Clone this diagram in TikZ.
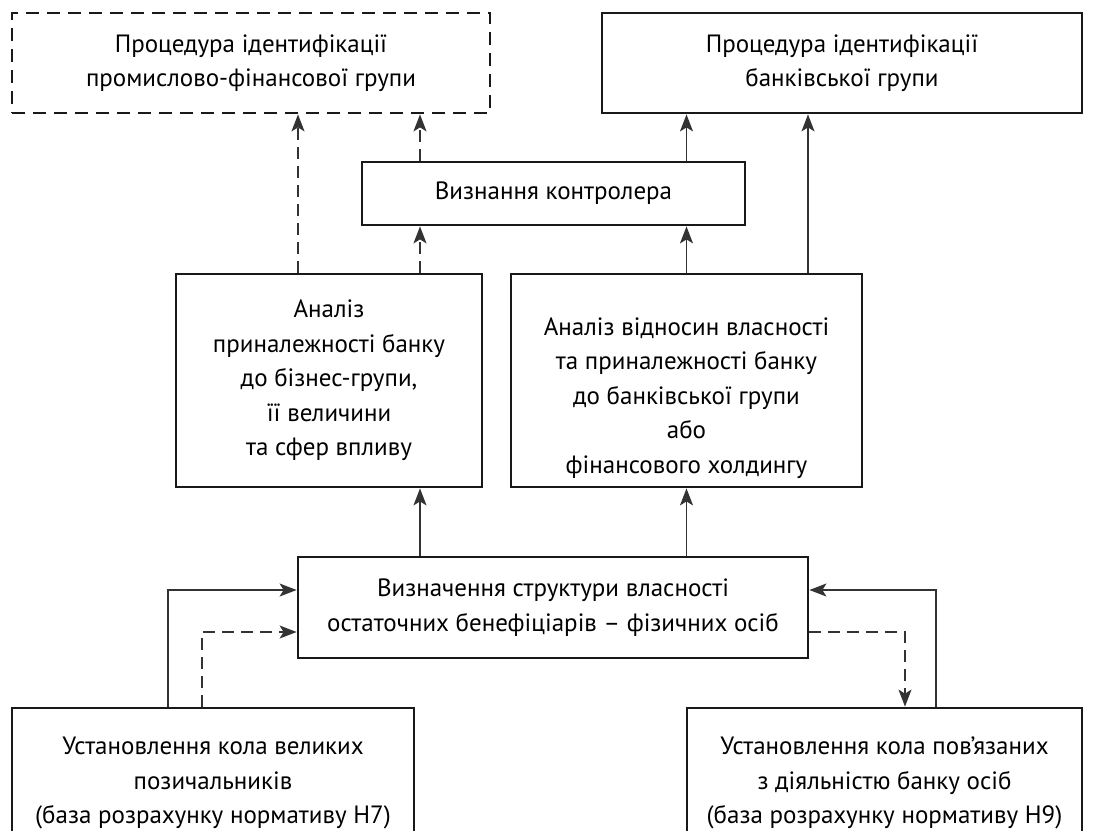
\documentclass[tikz,border=0pt]{standalone}
\usepackage{fontspec}
\setmainfont{PT Sans}
\usetikzlibrary{arrows.meta}

\tikzset{
  box/.style={draw=black!90, line width=1.4pt, align=center, inner sep=0pt},
  dbox/.style={box, dash pattern=on 6.5pt off 4pt},
  txt/.style={align=center, inner sep=0pt},
  con/.style={draw=black!80, line width=0.75pt, -{Stealth[length=8.5pt,width=6.5pt,inset=2pt]}},
  dcon/.style={con, dash pattern=on 6pt off 3.5pt}
}

\begin{document}
\begin{tikzpicture}[x=0.5pt, y=-0.5pt, font=\fontsize{12.5}{17.25}\selectfont]
		%%%%% START %%%%%
		\useasboundingbox (0,0) rectangle (1094,831);
		\clip (0,0) rectangle (1094,831);
		
		% top row
		\node[dbox, minimum width=239pt, minimum height=50pt] (pfg) at (251,63)
			{Процедура ідентифікації\\промислово-фінансової групи};
		\node[box, minimum width=240pt, minimum height=50pt] (bgr) at (842,63)
			{Процедура ідентифікації\\банківської групи};
		
		\node[box, minimum width=191.5pt, minimum height=31.5pt] (ctrl) at (553.5,193.5)
			{Визнання контролера};
		
		% analysis boxes
		\node[box, minimum width=153pt, minimum height=106.5pt] (anl) at (329,380.5)
			{Аналіз\\приналежності банку\\до бізнес-групи,\\її величини\\та сфер впливу};
		\node[box, minimum width=175.5pt, minimum height=106.5pt] (anr) at (686.5,380.5) {};
		\node[txt] (anrtxt) at (686.5,398)
			{Аналіз відносин власності\\та приналежності банку\\до банківської групи\\або\\фінансового холдингу};
		
		\node[box, minimum width=255pt, minimum height=50.5pt] (str) at (553,607.5)
			{Визначення структури власності\\остаточних бенефіціарів -- фізичних осіб};
		
		% bottom row, cut by the page edge
		\node[box, minimum width=201pt, minimum height=75pt] (borr) at (213,783)
			{Установлення кола великих\\позичальників\\(база розрахунку нормативу Н7)};
		\node[box, minimum width=197.5pt, minimum height=75pt] (rel) at (884.5,783)
			{Установлення кола пов’язаних\\з діяльністю банку осіб\\(база розрахунку нормативу Н9)};
		
		% connector lanes
		\coordinate (xa) at (298,0);
		\coordinate (xb) at (420,0);
		\coordinate (xc) at (686.5,0);
		\coordinate (xd) at (808,0);
		\coordinate (l1) at (168,590);
		\coordinate (l2) at (202,632);
		\coordinate (r1) at (936,590);
		\coordinate (r2) at (905,632);
		
		\draw[dcon] (anl.north -| xa) -- (pfg.south -| xa);
		\draw[dcon] (anl.north -| xb) -- (ctrl.south -| xb);
		\draw[dcon] (ctrl.north -| xb) -- (pfg.south -| xb);
		\draw[con] (anr.north -| xc) -- (ctrl.south -| xc);
		\draw[con] (ctrl.north -| xc) -- (bgr.south -| xc);
		\draw[con] (anr.north -| xd) -- (bgr.south -| xd);
		
		\draw[con] (str.north -| xb) -- (anl.south -| xb);
		\draw[con] (str.north -| xc) -- (anr.south -| xc);
		
		\draw[con] (borr.north -| l1) |- (str.west |- l1);
		\draw[dcon] (borr.north -| l2) |- (str.west |- l2);
		\draw[con] (rel.north -| r1) |- (str.east |- r1);
		\draw[dcon] (str.east |- r2) -| (rel.north -| r2);
		
		%%%%% END %%%%%
\end{tikzpicture}
\end{document}
